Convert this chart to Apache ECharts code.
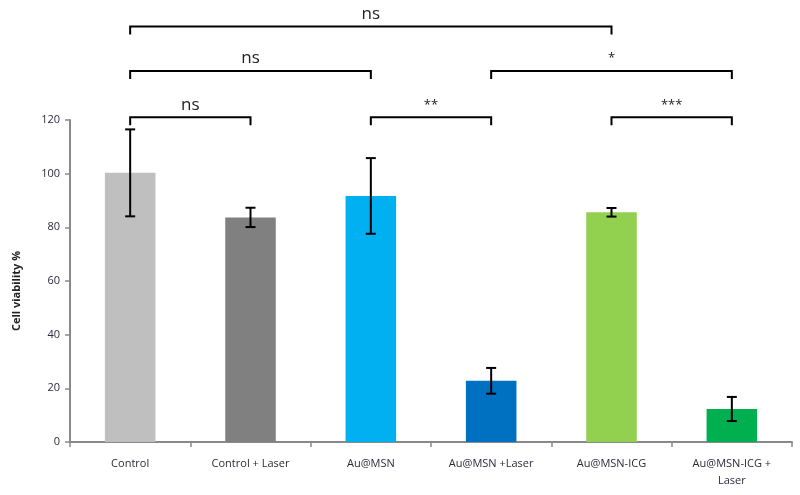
<!DOCTYPE html>
<html>
<head>
<meta charset="utf-8">
<script src="https://cdn.jsdelivr.net/npm/echarts@6/dist/echarts.min.js"></script>
<style>html,body{margin:0;padding:0;background:#fff;}#chart{width:800px;height:495px;}</style>
</head>
<body>
<div id="chart"></div>
<script>
var categories = ['Control', 'Control + Laser', 'Au@MSN', 'Au@MSN +Laser', 'Au@MSN-ICG', 'Au@MSN-ICG +\nLaser'];
var values = [100.3, 83.7, 91.7, 22.8, 85.6, 12.3];
var errors = [16.2, 3.6, 14.1, 4.8, 1.6, 4.5];
var barColors = ['#BFBFBF', '#808080', '#00B0F0', '#0070C0', '#92D050', '#00B050'];
var yTicks = [0, 20, 40, 60, 80, 100, 120];
// significance brackets: [fromIndex, toIndex, level value, label]
var bracketFrom = [0, 0, 3, 0, 2, 4];
var bracketTo = [4, 2, 5, 1, 3, 5];
var bracketLevel = [154.8, 138.3, 138.3, 121.0, 121.0, 121.0];
var bracketLabel = ['ns', 'ns', '*', 'ns', '**', '***'];

var chart = echarts.init(document.getElementById('chart'), null, {renderer: 'canvas'});

var barData = values.map(function (v, i) {
  return {value: v, itemStyle: {color: barColors[i]}};
});
var errData = values.map(function (v, i) { return [i, v - errors[i], v + errors[i]]; });
var brData = bracketFrom.map(function (f, i) { return [f, bracketTo[i], bracketLevel[i], i]; });

var option = {
  animation: false,
  grid: {left: 70, right: 8, top: 120, bottom: 53, containLabel: false},
  xAxis: {
    type: 'category',
    data: categories,
    axisLine: {lineStyle: {color: '#898989', width: 2}},
    axisTick: {show: true, length: 5, lineStyle: {color: '#898989', width: 1.5}},
    axisLabel: {color: '#2b2b3b', fontSize: 11, fontFamily: 'Open Sans', margin: 13, lineHeight: 17, interval: 0}
  },
  yAxis: {
    type: 'value',
    min: 0, max: 120, interval: 20,
    name: 'Cell viability %',
    nameLocation: 'middle',
    nameGap: 48,
    nameTextStyle: {color: '#222', fontSize: 11, fontWeight: 'bold', fontFamily: 'Open Sans', padding: [0, 0, 0, -20]},
    axisLine: {show: true, lineStyle: {color: '#898989', width: 2}},
    axisTick: {show: true, length: 5, lineStyle: {color: '#898989', width: 1.5}},
    splitLine: {show: false},
    axisLabel: {color: '#2b2b3b', fontSize: 11, fontFamily: 'Open Sans', margin: 10,
      formatter: function (v) { return yTicks.indexOf(v) >= 0 ? String(v) : ''; }}
  },
  series: [
    {
      type: 'bar',
      data: barData,
      barWidth: '42%'
    },
    {
      type: 'custom',
      clip: false,
      z: 5,
      data: errData,
      renderItem: function (params, api) {
        var x = api.coord([api.value(0), 0])[0];
        var lo = api.coord([api.value(0), api.value(1)])[1];
        var hi = api.coord([api.value(0), api.value(2)])[1];
        var w = 5;
        var st = {stroke: '#000', lineWidth: 2};
        return {
          type: 'group',
          children: [
            {type: 'line', shape: {x1: x, y1: lo, x2: x, y2: hi}, style: st},
            {type: 'line', shape: {x1: x - w, y1: lo, x2: x + w, y2: lo}, style: st},
            {type: 'line', shape: {x1: x - w, y1: hi, x2: x + w, y2: hi}, style: st}
          ]
        };
      }
    },
    {
      type: 'custom',
      clip: false,
      z: 5,
      data: brData,
      renderItem: function (params, api) {
        var x1 = api.coord([api.value(0), 0])[0];
        var x2 = api.coord([api.value(1), 0])[0];
        var y = api.coord([0, api.value(2)])[1];
        var lab = bracketLabel[api.value(3)];
        var isStar = lab.indexOf('*') >= 0;
        var st = {stroke: '#000', lineWidth: 2, fill: null};
        return {
          type: 'group',
          children: [
            {type: 'polyline', shape: {points: [[x1, y + 8], [x1, y], [x2, y], [x2, y + 8]]}, style: st},
            {type: 'text', x: (x1 + x2) / 2, y: y - (isStar ? 6 : 4),
              style: {text: lab, align: 'center', verticalAlign: 'bottom',
                fontSize: isStar ? 13 : 17, fontFamily: 'Open Sans', fill: '#222'}}
          ]
        };
      }
    }
  ]
};
chart.setOption(option);
</script>
</body>
</html>
